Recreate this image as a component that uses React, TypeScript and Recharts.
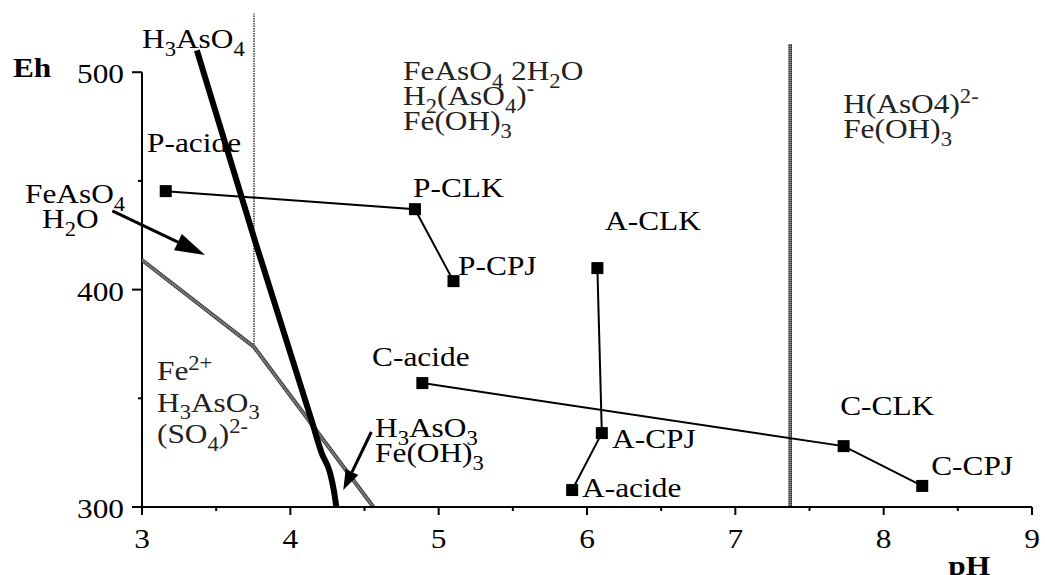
import React from "react";
import {
  ComposedChart,
  Line,
  XAxis,
  YAxis,
  ReferenceLine,
  ReferenceDot,
} from "recharts";

/* ── data (pH, Eh in mV) ── */

const xTicks = [3, 3.5, 4, 4.5, 5, 5.5, 6, 6.5, 7, 7.5, 8, 8.5, 9];
const yTicks = [300, 350, 400, 450, 500];

// sample paths: acide -> CLK -> CPJ
const pSamples = [
  { x: 3.16, y: 445.3 }, // P-acide
  { x: 4.84, y: 437.0 }, // P-CLK
  { x: 5.1, y: 403.9 }, // P-CPJ
];
const aSamples = [
  { x: 6.07, y: 409.9 }, // A-CLK
  { x: 6.1, y: 334.0 }, // A-CPJ
  { x: 5.9, y: 307.8 }, // A-acide
];
const cSamples = [
  { x: 4.89, y: 357.0 }, // C-acide
  { x: 7.73, y: 328.0 }, // C-CLK
  { x: 8.26, y: 309.7 }, // C-CPJ
];

// stability field boundaries
const arsenateBoundary = [
  { x: 3.37, y: 510 },
  { x: 3.76, y: 422.8 },
  { x: 4.147, y: 339 },
  { x: 4.21, y: 325 },
  { x: 4.268, y: 315.6 },
  { x: 4.295, y: 307 },
  { x: 4.31, y: 300 },
];
const ferrousBoundary = [
  { x: 3, y: 413.6 },
  { x: 3.755, y: 373.6 },
  { x: 4.56, y: 300 },
];
const scoroditeBoundary = [
  { x: 3.755, y: 373.6 },
  { x: 3.755, y: 527 },
];
const hydroxideBoundary = [
  { x: 7.37, y: 300 },
  { x: 7.37, y: 513 },
];

const arrows = [
  { from: { x: 2.8, y: 436.2 }, to: { x: 3.425, y: 415.9 }, big: true },
  { from: { x: 4.546, y: 334.5 }, to: { x: 4.357, y: 307.8 }, big: false },
];

// annotations: position in data units, "_{}" subscript, "^{}" superscript
type Note = {
  x: number;
  y: number;
  lines: string[];
  gap?: number;
  bold?: boolean;
  soft?: boolean;
};

const notes: Note[] = [
  { x: 3.0, y: 511, lines: ["H_{3}AsO_{4}"] },
  { x: 3.034, y: 463.2, lines: ["P-acide"] },
  { x: 2.211, y: 439.8, lines: ["FeAsO_{4}"] },
  { x: 2.326, y: 428.3, lines: ["H_{2}O"] },
  {
    x: 4.76,
    y: 496.3,
    lines: ["FeAsO_{4} 2H_{2}O", "H_{2}(AsO_{4})^{-}", "Fe(OH)_{3}"],
    gap: 25,
    soft: true,
  },
  { x: 7.727, y: 481.1, lines: ["H(AsO4)^{2-}", "Fe(OH)_{3}"], gap: 25, soft: true },
  { x: 4.827, y: 442.5, lines: ["P-CLK"] },
  { x: 5.131, y: 406.7, lines: ["P-CPJ"] },
  { x: 6.122, y: 427.4, lines: ["A-CLK"] },
  {
    x: 3.101,
    y: 358.4,
    lines: ["Fe^{2+}", "H_{3}AsO_{3}", "(SO_{4})^{2-}"],
    gap: 31.5,
    soft: true,
  },
  { x: 4.551, y: 364.8, lines: ["C-acide"] },
  { x: 4.571, y: 332.2, lines: ["H_{3}AsO_{3}", "Fe(OH)_{3}"], gap: 25 },
  { x: 6.169, y: 327.1, lines: ["A-CPJ"] },
  { x: 5.967, y: 304.6, lines: ["A-acide"] },
  { x: 7.707, y: 342.3, lines: ["C-CLK"] },
  { x: 8.32, y: 314.7, lines: ["C-CPJ"] },
  { x: 2.13, y: 497.7, lines: ["Eh"], bold: true },
  { x: 8.435, y: 268.7, lines: ["pH"], bold: true },
];

/* ── drawing helpers ── */

const FONT = '"Liberation Serif", "Times New Roman", serif';
const SIZE = 28;
const STRETCH = 1.12;

function RichText({
  x,
  y,
  text,
  anchor = "start",
  bold = false,
  fill = "#000",
}: {
  x: number;
  y: number;
  text: string;
  anchor?: "start" | "middle" | "end";
  bold?: boolean;
  fill?: string;
}) {
  const parts: React.ReactNode[] = [];
  const re = /_\{([^}]*)\}|\^\{([^}]*)\}|([^_^]+)/g;
  let m: RegExpExecArray | null;
  let shift = 0;
  let i = 0;
  while ((m = re.exec(text))) {
    const target =
      m[1] !== undefined ? SIZE * 0.28 : m[2] !== undefined ? -SIZE * 0.36 : 0;
    const content = m[1] ?? m[2] ?? m[3];
    parts.push(
      <tspan
        key={i++}
        dy={target - shift}
        fontSize={target === 0 ? SIZE : SIZE * 0.72}
      >
        {content}
      </tspan>
    );
    shift = target;
  }
  return (
    <text
      transform={`translate(${x},${y}) scale(${STRETCH},1)`}
      textAnchor={anchor}
      fontFamily={FONT}
      fontSize={SIZE}
      fontWeight={bold ? "bold" : "normal"}
      fill={fill}
    >
      {parts}
    </text>
  );
}

function YTick({ x, y, payload }: any) {
  const major = payload.value % 100 === 0;
  return (
    <g>
      <line
        x1={x - (major ? 10 : 4)}
        x2={x}
        y1={y}
        y2={y}
        stroke="#000"
        strokeWidth={2}
      />
      {major && (
        <RichText x={x - 18} y={y + 11} text={String(payload.value)} anchor="end" />
      )}
    </g>
  );
}

function XTick({ x, y, payload }: any) {
  const major = Number.isInteger(payload.value);
  return (
    <g>
      <line
        x1={x}
        x2={x}
        y1={y}
        y2={y + (major ? 8 : 4)}
        stroke="#000"
        strokeWidth={2}
      />
      {major && (
        <RichText x={x} y={y + 41} text={String(payload.value)} anchor="middle" />
      )}
    </g>
  );
}

function ArrowShape({ x1, y1, x2, y2, big }: any) {
  const len = big ? 30 : 20;
  const half = big ? 9 : 7;
  const dx = x2 - x1;
  const dy = y2 - y1;
  const d = Math.hypot(dx, dy) || 1;
  const ux = dx / d;
  const uy = dy / d;
  const bx = x2 - ux * len;
  const by = y2 - uy * len;
  const head = `${x2},${y2} ${bx - uy * half},${by + ux * half} ${bx + uy * half},${by - ux * half}`;
  return (
    <g>
      <line x1={x1} y1={y1} x2={bx} y2={by} stroke="#000" strokeWidth={3} />
      <polygon points={head} fill="#000" />
    </g>
  );
}

const renderSquare = (p: any) => (
  <rect
    key={`sq-${p.index}`}
    x={p.cx - 6}
    y={p.cy - 6}
    width={12}
    height={12}
    fill="#000"
  />
);

// grey boundaries: dark edge with a lighter dotted core
const greyLine = (data: { x: number; y: number }[], key: string, w: number) => [
  <Line
    key={`${key}-edge`}
    data={data}
    dataKey="y"
    stroke="#444"
    strokeWidth={w}
    dot={false}
    activeDot={false}
    isAnimationActive={false}
  />,
  <Line
    key={`${key}-core`}
    data={data}
    dataKey="y"
    stroke="#aaa"
    strokeWidth={w - 2.2}
    strokeDasharray="1 1"
    dot={false}
    activeDot={false}
    isAnimationActive={false}
  />,
];

export default function App() {
  return (
    <div style={{ position: "absolute", left: 0, top: 0, background: "#fff" }}>
      <ComposedChart
        width={1045}
        height={575}
        margin={{ top: 7, right: 13, bottom: 28, left: 62 }}
      >
        <XAxis
          type="number"
          dataKey="x"
          domain={[3, 9]}
          ticks={xTicks}
          interval={0}
          tickSize={0}
          tickMargin={0}
          tickLine={false}
          axisLine={{ stroke: "#000", strokeWidth: 2 }}
          tick={<XTick />}
          height={40}
          allowDataOverflow
        />
        <YAxis
          type="number"
          dataKey="y"
          domain={[300, 530]}
          ticks={yTicks}
          interval={0}
          tickSize={0}
          tickMargin={0}
          tickLine={false}
          axisLine={false}
          tick={<YTick />}
          width={80}
          allowDataOverflow
        />

        <ReferenceLine
          segment={[
            { x: 3, y: 300 },
            { x: 3, y: 500 },
          ]}
          stroke="#000"
          strokeWidth={2}
          ifOverflow="visible"
        />

        {greyLine(ferrousBoundary, "fe", 4)}
        <Line
          data={scoroditeBoundary}
          dataKey="y"
          stroke="#666"
          strokeWidth={2}
          strokeDasharray="1.5 1"
          dot={false}
          activeDot={false}
          isAnimationActive={false}
        />
        {greyLine(hydroxideBoundary, "oh", 3.6)}
        <Line
          data={arsenateBoundary}
          dataKey="y"
          type="monotone"
          stroke="#000"
          strokeWidth={6}
          dot={false}
          activeDot={false}
          isAnimationActive={false}
        />

        {[pSamples, aSamples, cSamples].map((s, i) => (
          <Line
            key={`s-${i}`}
            data={s}
            dataKey="y"
            stroke="#000"
            strokeWidth={2}
            dot={renderSquare}
            activeDot={false}
            isAnimationActive={false}
          />
        ))}

        {arrows.map((a, i) => (
          <ReferenceLine
            key={`ar-${i}`}
            segment={[a.from, a.to]}
            ifOverflow="visible"
            shape={(p: any) => <ArrowShape {...p} big={a.big} />}
          />
        ))}

        {notes.map((n, i) => (
          <ReferenceDot
            key={`n-${i}`}
            x={n.x}
            y={n.y}
            r={0}
            ifOverflow="visible"
            shape={(p: any) => (
              <g>
                {n.lines.map((line, j) => (
                  <RichText
                    key={j}
                    x={p.cx}
                    y={p.cy + j * (n.gap ?? 25)}
                    text={line}
                    bold={n.bold}
                    fill={n.soft ? "#222" : "#000"}
                  />
                ))}
              </g>
            )}
          />
        ))}
      </ComposedChart>
    </div>
  );
}
